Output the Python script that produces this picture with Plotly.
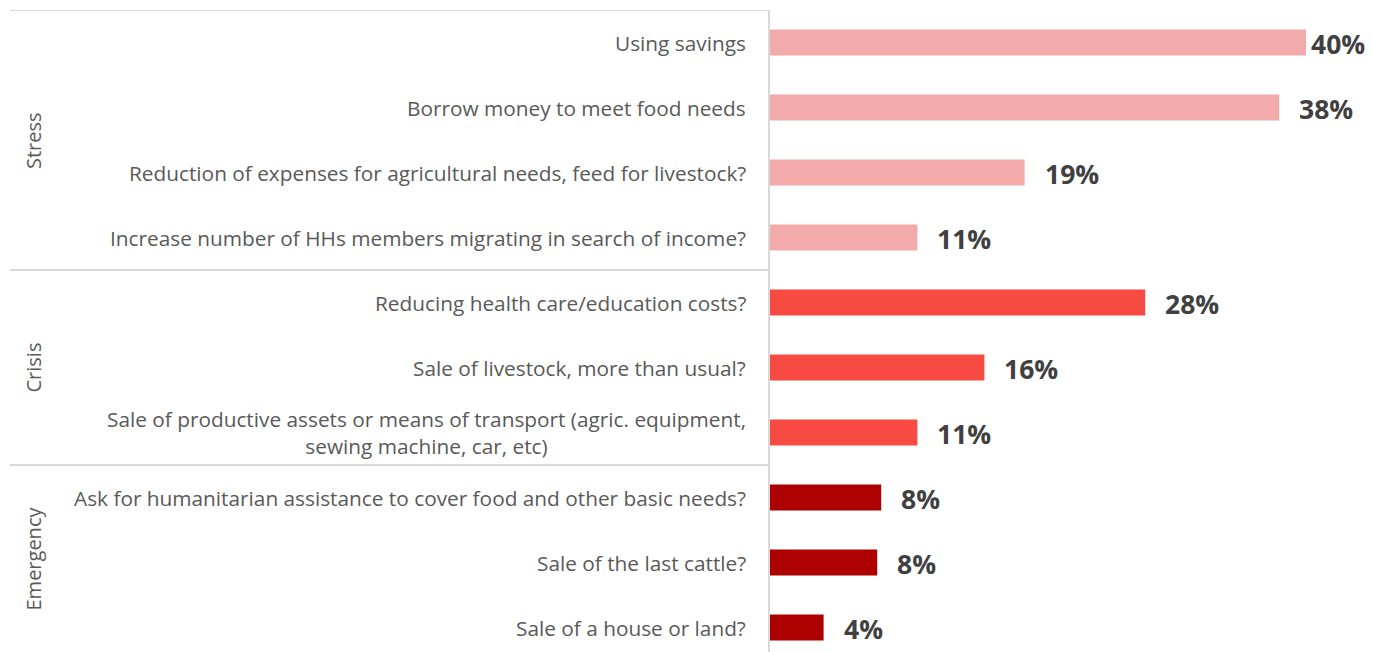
import plotly.graph_objects as go

# coping strategies, top to bottom
strategies = [
    "Using savings",
    "Borrow money to meet food needs",
    "Reduction of expenses for agricultural needs, feed for livestock?",
    "Increase number of HHs members migrating in search of income?",
    "Reducing health care/education costs?",
    "Sale of livestock, more than usual?",
    "Sale of productive assets or means of transport (agric. equipment,<br>sewing machine, car, etc)",
    "Ask for humanitarian assistance to cover food and other basic needs?",
    "Sale of the last cattle?",
    "Sale of a house or land?",
]
shares = [40, 38, 19, 11, 28, 16, 11, 8.3, 8.0, 4]
share_labels = ["40%", "38%", "19%", "11%", "28%", "16%", "11%", "8%", "8%", "4%"]

groups = ["Stress", "Crisis", "Emergency"]
group_sizes = [4, 3, 3]
group_colors = {"Stress": "#F3AAAA", "Crisis": "#F64A43", "Emergency": "#AD0000"}

# page body has an 8px margin, so the figure is drawn 8px in from the corner
OFF = 8
W, H = 1373 - OFF, 652 - OFF
LEFT = 770 - OFF
LINE = "#d9d9d9"
TXT = "#595959"

rows = list(range(len(strategies)))
row_group = [g for g, n in zip(groups, group_sizes) for _ in range(n)]

fig = go.Figure(
    go.Bar(
        x=shares,
        y=rows,
        orientation="h",
        width=0.4,
        marker=dict(color=[group_colors[g] for g in row_group], line_width=0),
        hoverinfo="skip",
    )
)

# category labels (right aligned against axis, centred lines)
for i, s in enumerate(strategies):
    fig.add_annotation(
        x=0, xref="paper", y=i, yref="y", text=s, showarrow=False,
        xanchor="right", xshift=-22, align="center",
        font=dict(family="Open Sans", size=20.8, color=TXT),
    )

# value labels (first one squeezed against the right edge)
shifts = [3] + [18] * (len(shares) - 1)
for i, (v, t) in enumerate(zip(shares, share_labels)):
    fig.add_annotation(
        x=v, y=i, text=f"<b>{t}</b>", showarrow=False,
        xanchor="left", xshift=shifts[i], yshift=-1,
        font=dict(family="Open Sans", size=26.5, color="#404040"),
    )

# group labels + separators
x_left = (10 - 770) / (W - LEFT)
start = 0
for g, n in zip(groups, group_sizes):
    lo, hi = start - 0.5, start + n - 0.5
    mid = (lo + min(hi, 9.377)) / 2
    fig.add_annotation(
        x=(33 - 770) / (W - LEFT), xref="paper", y=mid, yref="y",
        xanchor="center", yanchor="middle",
        text=g, showarrow=False, textangle=-90,
        font=dict(family="Open Sans", size=20, color=TXT),
    )
    fig.add_shape(
        type="line", xref="paper", yref="y", x0=x_left, x1=0, y0=lo, y1=lo,
        line=dict(color=LINE, width=2),
    )
    start += n

fig.update_xaxes(range=[0, 45], visible=False)
fig.update_yaxes(
    range=[9.377, -0.5], showticklabels=False, showgrid=False, zeroline=False,
    showline=True, linecolor=LINE, linewidth=2,
)

fig.update_layout(
    width=W,
    height=H,
    margin=dict(l=LEFT, r=0, t=10 - OFF, b=0),
    paper_bgcolor="white",
    plot_bgcolor="white",
    showlegend=False,
    bargap=0.6,
)

fig.write_html("out.html")
